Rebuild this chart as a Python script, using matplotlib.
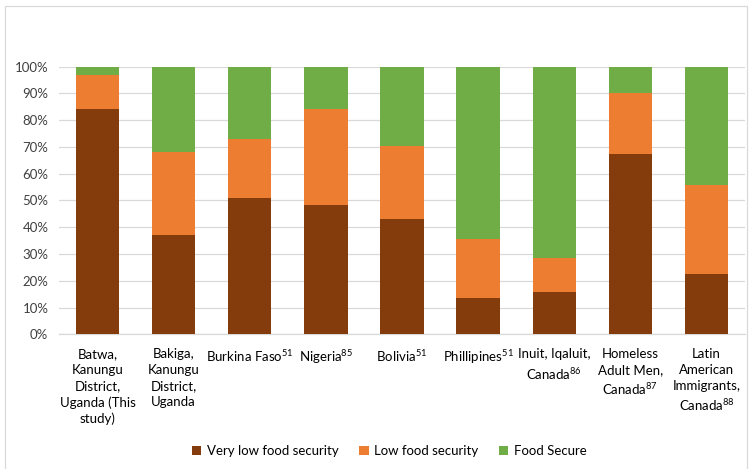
import matplotlib.pyplot as plt
from matplotlib.patches import Rectangle
import numpy as np

plt.rcParams['font.family'] = ['Lato', 'DejaVu Sans']
plt.rcParams['mathtext.fontset'] = 'custom'
plt.rcParams['mathtext.rm'] = 'Lato'
plt.rcParams['mathtext.it'] = 'Lato:italic'
plt.rcParams['mathtext.default'] = 'rm'

# categories (x tick labels)
categories = [
    'Batwa,\nKanungu\nDistrict,\nUganda (This\nstudy)',
    'Bakiga,\nKanungu\nDistrict,\nUganda',
    'Burkina Faso$^{51}$',
    'Nigeria$^{85}$',
    'Bolivia$^{51}$',
    'Phillipines$^{51}$',
    'Inuit, Iqaluit,\nCanada$^{86}$',
    'Homeless\nAdult Men,\nCanada$^{87}$',
    'Latin\nAmerican\nImmigrants,\nCanada$^{88}$',
]
# shares in percent
very_low = [84, 37, 51, 48.3, 43.2, 13.8, 15.7, 67.4, 22.7]
low = [13, 31, 22, 35.9, 27, 21.8, 12.9, 22.6, 33.1]
secure = [3, 32, 27, 15.8, 29.8, 64.4, 71.4, 10, 44.2]

series_names = ['Very low food security', 'Low food security', 'Food Secure']
colors = ['#843C0C', '#ED7D31', '#70AD47']

fig = plt.figure(figsize=(7.5, 4.69), dpi=100)
ax = fig.add_axes([0.0793, 0.2868, 0.9134, 0.5714])

x = np.arange(len(categories))
w = 0.57
bottom = np.zeros(len(categories))
for vals, name, c in zip([very_low, low, secure], series_names, colors):
    ax.bar(x, vals, w, bottom=bottom, color=c, label=name, zorder=3)
    bottom += np.array(vals)

ax.set_xlim(-0.5, len(categories) - 0.5)
ax.set_ylim(0, 100)
ax.set_yticks(range(0, 101, 10))
ax.set_yticklabels([f'{v}%' for v in range(0, 101, 10)], fontsize=9.5, color='#404040')
ax.set_xticks(x)
ax.set_xticklabels(categories, fontsize=9.5, color='#000000', linespacing=1.38, va='top')
ax.tick_params(axis='both', length=0)
ax.tick_params(axis='x', pad=10)
ax.tick_params(axis='y', pad=8)
ax.grid(axis='y', color='#D9D9D9', linewidth=0.9, zorder=0)
for s in ['top', 'right', 'left']:
    ax.spines[s].set_visible(False)
ax.spines['bottom'].set_color('#D9D9D9')
ax.spines['bottom'].set_linewidth(0.9)

fig.legend(loc='center', bbox_to_anchor=(0.519, 0.038), ncol=3, frameon=False,
           fontsize=9.5, handlelength=0.7, handleheight=0.7, handletextpad=0.4,
           columnspacing=1.6)

fig.patches.append(Rectangle((0.006, -0.01), 0.99, 0.998, transform=fig.transFigure,
                             fill=False, edgecolor='#D9D9D9', linewidth=0.9))

fig.savefig('out.png', dpi=100)
